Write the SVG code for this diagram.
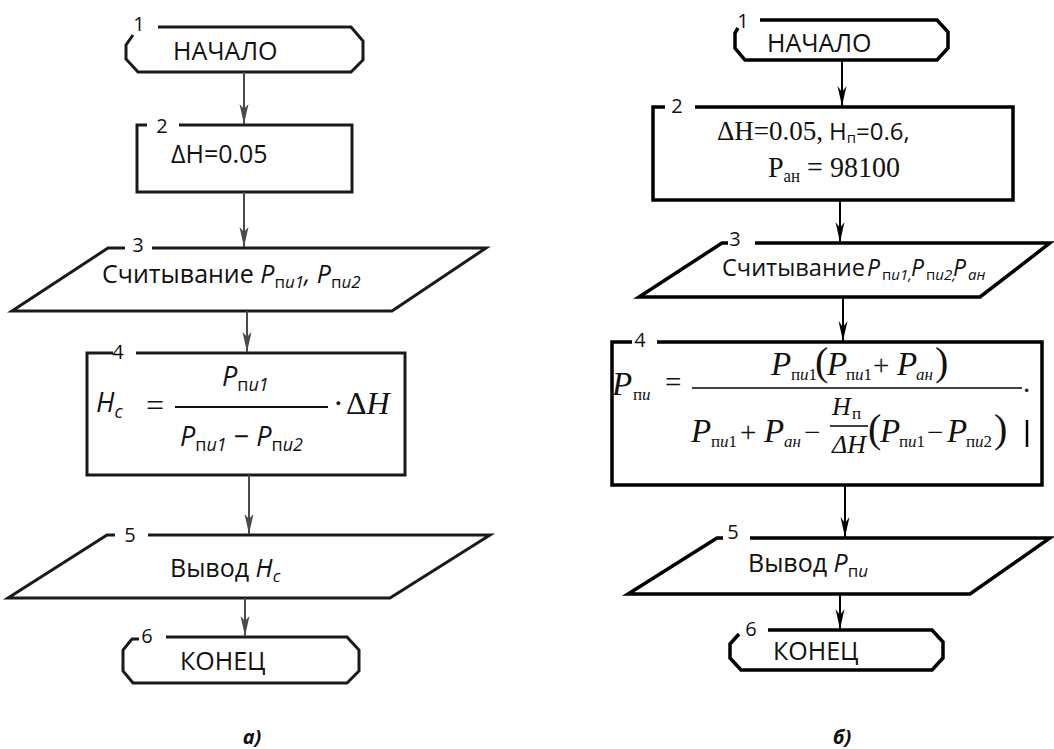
<svg xmlns="http://www.w3.org/2000/svg" width="1054" height="749" viewBox="0 0 1054 749">
  <style>
    .shape { fill: none; stroke: #1a1a1a; stroke-width: 3; stroke-linejoin: miter; }
    .shapeB { fill: none; stroke: #000; stroke-width: 3.5; stroke-linejoin: miter; }
    .sans { font-family: "Open Sans", "Noto Sans", sans-serif; fill: #111; }
    .num { font-family: "Open Sans", "Noto Sans", sans-serif; font-size: 20px; fill: #111; text-anchor: middle; }
    .txt { font-size: 25px; }
    .it { font-style: italic; }
    .serif { font-family: "Liberation Serif", "Times New Roman", serif; fill: #111; }
    .mi { font-size: 33px; font-style: italic; }
    .s { font-size: 17px; font-style: normal; }
    .si { font-size: 17px; font-style: italic; }
    .op { font-size: 29px; font-style: normal; }
    .paren { font-size: 40px; font-style: normal; }
    .conL { stroke: #4a4a4a; stroke-width: 2; fill: none; }
    .conR { stroke: #000; stroke-width: 2; fill: none; }
    .cap { font-family: "Open Sans", "Noto Sans", sans-serif; font-size: 20px; font-weight: bold; font-style: italic; fill: #111; text-anchor: middle; }
  </style>
  <defs>
    <marker id="arrL" viewBox="0 0 20 10" refX="20" refY="5" markerWidth="20" markerHeight="10" markerUnits="userSpaceOnUse" orient="auto">
      <path d="M0,0.5 L20,5 L0,9.5 L5,5 z" fill="#4a4a4a"/>
    </marker>
    <marker id="arrR" viewBox="0 0 20 10" refX="20" refY="5" markerWidth="20" markerHeight="10" markerUnits="userSpaceOnUse" orient="auto">
      <path d="M0,0.5 L20,5 L0,9.5 L6,5 z" fill="#000"/>
    </marker>
  </defs>

  <!-- ===== Flowchart a) ===== -->
  <g id="a-start">
    <path class="shape" d="M158 27 H351 L363 41 V60 L351 72 H138 L126 59 V45 L133 35"/>
    <text class="num" x="139" y="31">1</text>
    <text class="sans txt" x="173" y="60">НАЧАЛО</text>
  </g>
  <g id="a-assign">
    <path class="shape" d="M147 125 H137 V192 H352 V125 H179"/>
    <text class="num" x="162" y="133">2</text>
    <text class="sans txt" x="171" y="163">ΔH=0.05</text>
  </g>
  <g id="a-input">
    <path class="shape" d="M125 248 H108 L12 311 H392 L486 248 H152"/>
    <text class="num" x="138" y="252">3</text>
    <text class="sans txt" x="102" y="283">Считывание <tspan class="it">P</tspan><tspan font-size="17" dy="5">п<tspan class="it">и1</tspan></tspan><tspan dy="-5" class="it">, P</tspan><tspan font-size="17" dy="5">п<tspan class="it">и2</tspan></tspan></text>
  </g>
  <g id="a-calc">
    <path class="shape" d="M113 353 H87 V475 H405 V353 H136"/>
    <text class="num" x="118" y="359">4</text>
    <text class="sans it" x="96" y="412" font-size="27">H<tspan font-size="18" dy="6">c</tspan></text>
    <text class="serif" x="146" y="416" font-size="32">=</text>
    <line x1="175" y1="407" x2="328" y2="407" stroke="#111" stroke-width="2"/>
    <text class="sans" x="222" y="386" font-size="27"><tspan class="it">P</tspan><tspan font-size="18" dy="5">п<tspan class="it">и1</tspan></tspan></text>
    <text class="sans" x="180" y="446" font-size="27"><tspan class="it">P</tspan><tspan font-size="18" dy="5">п<tspan class="it">и1</tspan></tspan><tspan dy="-5"> − </tspan><tspan class="it">P</tspan><tspan font-size="18" dy="5">п<tspan class="it">и2</tspan></tspan></text>
    <text class="serif" x="333" y="414" font-size="32" fill="#1c1410">·<tspan x="346">Δ</tspan><tspan font-style="italic">H</tspan></text>
  </g>
  <g id="a-output">
    <path class="shape" d="M115 535 H107 L8 598 H390 L490 535 H148"/>
    <text class="num" x="130" y="542">5</text>
    <text class="sans txt" x="170" y="577">Вывод <tspan class="it">H</tspan><tspan class="it" font-size="17" dy="5">c</tspan></text>
  </g>
  <g id="a-end">
    <path class="shape" d="M166 637 H347 L359 650 V671 L347 683 H133 L123 671 V650 L132 639 H139"/>
    <text class="num" x="147" y="643">6</text>
    <text class="sans txt" x="180" y="670">КОНЕЦ</text>
  </g>
  <text class="cap" x="252" y="744">а)</text>

  <!-- ===== Flowchart б) ===== -->
  <g id="b-start">
    <path class="shapeB" d="M760 20 H937 L948 32 V48 L937 60 H745 L735 48 V33 L738 28"/>
    <text class="num" x="743" y="28">1</text>
    <text class="sans txt" x="767" y="52">НАЧАЛО</text>
  </g>
  <g id="b-assign">
    <path class="shapeB" d="M665 107 H653 V200 H1013 V107 H695"/>
    <text class="num" x="677" y="113">2</text>
    <text class="serif" x="717" y="140" font-size="27">ΔH=0.05,</text>
    <text class="sans" x="829" y="140" font-size="24">H<tspan font-size="15" dy="3">п</tspan><tspan dy="-3">=0.6,</tspan></text>
    <text class="serif" x="768" y="177" font-size="30" textLength="132" lengthAdjust="spacingAndGlyphs">P<tspan font-size="18" dy="5">ан</tspan><tspan dy="-5"> = 98100</tspan></text>
  </g>
  <g id="b-input">
    <path class="shapeB" d="M728 243 H722 L639 297 H980 L1050 243 H755"/>
    <text class="num" x="735" y="246">3</text>
    <text class="sans" x="722" y="276" font-size="23"><tspan textLength="143" lengthAdjust="spacingAndGlyphs">Считывание</tspan><tspan x="867" class="it">P</tspan><tspan x="882" y="280" font-size="15">п</tspan><tspan class="it" font-size="15">и1,</tspan><tspan x="911" y="276" class="it">P</tspan><tspan x="926" y="280" font-size="15">п</tspan><tspan class="it" font-size="15">и2,</tspan><tspan x="953" y="276" class="it">P</tspan><tspan x="968" y="280" class="it" font-size="15">ан</tspan></text>
  </g>
  <g id="b-calc">
    <path class="shapeB" d="M632 342 H612 V485 H1042 V342 H657"/>
    <text class="num" x="640" y="347">4</text>
    <line x1="692" y1="388" x2="1022" y2="388" stroke="#000" stroke-width="1.6"/>
    <line x1="830" y1="426" x2="868" y2="426" stroke="#000" stroke-width="1.4"/>
    <line x1="1027" y1="420" x2="1027" y2="447" stroke="#000" stroke-width="2.5"/>
    <!-- left-hand side -->
    <text class="serif mi" x="612" y="395">P<tspan class="s" x="633" y="400">п</tspan><tspan class="si">и</tspan><tspan class="op" x="665" y="392" font-size="32">=</tspan><tspan class="op" x="1023" y="392" font-size="20">.</tspan></text>
    <!-- numerator -->
    <text class="serif mi" x="771" y="375">P<tspan class="s" x="791" y="380">п</tspan><tspan class="si">и</tspan><tspan class="s">1</tspan><tspan class="paren" x="815" y="375">(</tspan><tspan x="827">P</tspan><tspan class="s" x="846" y="380">п</tspan><tspan class="si">и</tspan><tspan class="s">1</tspan><tspan class="op" x="873" y="375">+</tspan><tspan x="897">P</tspan><tspan class="si" x="916" y="380">ан</tspan><tspan class="paren" x="935" y="375">)</tspan></text>
    <!-- denominator -->
    <text class="serif mi" x="691" y="442">P<tspan class="s" x="711" y="447">п</tspan><tspan class="si">и</tspan><tspan class="s">1</tspan><tspan class="op" x="740" y="442">+</tspan><tspan x="764">P</tspan><tspan class="si" x="784" y="447">ан</tspan><tspan class="op" x="804" y="442">−</tspan><tspan x="832" y="415" font-size="26">H</tspan><tspan class="s" x="852" y="419" font-size="15">п</tspan><tspan x="832" y="453" font-size="26">ΔH</tspan><tspan class="paren" x="868" y="442">(</tspan><tspan x="880">P</tspan><tspan class="s" x="899" y="447">п</tspan><tspan class="si">и</tspan><tspan class="s">1</tspan><tspan class="op" x="927" y="442">−</tspan><tspan x="947">P</tspan><tspan class="s" x="966" y="447">п</tspan><tspan class="si">и</tspan><tspan class="s">2</tspan><tspan class="paren" x="994" y="442">)</tspan></text>
  </g>
  <g id="b-output">
    <path class="shapeB" d="M723 538 H717 L628 594 H970 L1050 538 H750"/>
    <text class="num" x="733" y="539">5</text>
    <text class="sans txt" x="748" y="572">Вывод <tspan class="it">P</tspan><tspan font-size="17" dy="5">п<tspan class="it">и</tspan></tspan></text>
  </g>
  <g id="b-end">
    <path class="shapeB" d="M768 630 H932 L943 642 V658 L932 670 H741 L730 658 V644 L739 634"/>
    <text class="num" x="751" y="636">6</text>
    <text class="sans txt" x="773" y="660">КОНЕЦ</text>
  </g>
  <text class="cap" x="842" y="744">б)</text>

  <!-- connectors -->
  <g id="connectors">
    <line class="conL" x1="244" y1="72" x2="244" y2="124" marker-end="url(#arrL)"/>
    <line class="conL" x1="244" y1="192" x2="244" y2="247" marker-end="url(#arrL)"/>
    <line class="conL" x1="247" y1="311" x2="247" y2="352" marker-end="url(#arrL)"/>
    <line class="conL" x1="249" y1="475" x2="249" y2="534" marker-end="url(#arrL)"/>
    <line class="conL" x1="245" y1="598" x2="245" y2="636" marker-end="url(#arrL)"/>
    <line class="conR" x1="842" y1="60" x2="842" y2="106" marker-end="url(#arrR)"/>
    <line class="conR" x1="840" y1="200" x2="840" y2="242" marker-end="url(#arrR)"/>
    <line class="conR" x1="843" y1="297" x2="843" y2="341" marker-end="url(#arrR)"/>
    <line class="conR" x1="845" y1="485" x2="845" y2="537" marker-end="url(#arrR)"/>
    <line class="conR" x1="840" y1="594" x2="840" y2="629" marker-end="url(#arrR)"/>
  </g>
</svg>
